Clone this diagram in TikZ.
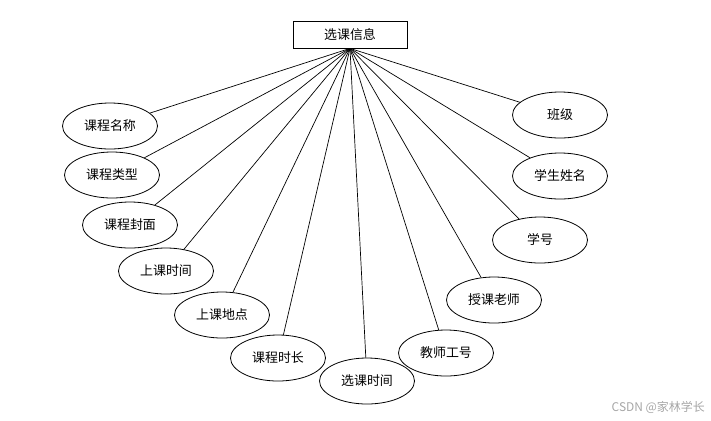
\documentclass[tikz,border=0pt]{standalone}
\usepackage{fontspec}
\setmainfont{Noto Sans CJK SC}
\usepackage{tikz}
\usetikzlibrary{positioning, shapes.geometric}

\begin{document}
\begin{tikzpicture}[x=1bp, y=-1bp,
        entity/.style={rectangle, draw, line width=0.8pt, minimum width=114bp, minimum height=27bp, font=\fontsize{13}{15}\selectfont},
        attr/.style={ellipse, draw, line width=0.8pt, minimum width=95bp, minimum height=46bp, inner sep=0pt, font=\fontsize{13}{15}\selectfont},
        link/.style={line width=0.7pt}
    ]
        \useasboundingbox (0,0) rectangle (711,420);
        \node[entity] (INFO) at (350,34.5) {选课信息};
        \node[attr] (KCMC) at (110,126) {课程名称};
        \node[attr] (KCLX) at (112,175) {课程类型};
        \node[attr] (KCFM) at (130,225) {课程封面};
        \node[attr] (SKSJ) at (166,271) {上课时间};
        \node[attr] (SKDD) at (222,315) {上课地点};
        \node[attr] (KCSC) at (278,358) {课程时长};
        \node[attr] (XKSJ) at (367,381) {选课时间};
        \node[attr] (JSGH) at (446,353) {教师工号};
        \node[attr] (SKLS) at (494,300) {授课老师};
        \node[attr] (XH) at (540,240) {学号};
        \node[attr] (XSXM) at (560,176) {学生姓名};
        \node[attr] (BJ) at (560,115) {班级};
        \foreach \a in {KCMC,KCLX,KCFM,SKSJ,SKDD,KCSC,XKSJ,JSGH,SKLS,XH,XSXM,BJ}
            \draw[link] (INFO.south) -- (\a);
        \node[text=gray!70, font=\fontsize{12}{14}\selectfont, anchor=east, inner sep=0pt] (MARK) at (705,407) {CSDN @家林学长};
    \end{tikzpicture}
\end{document}
